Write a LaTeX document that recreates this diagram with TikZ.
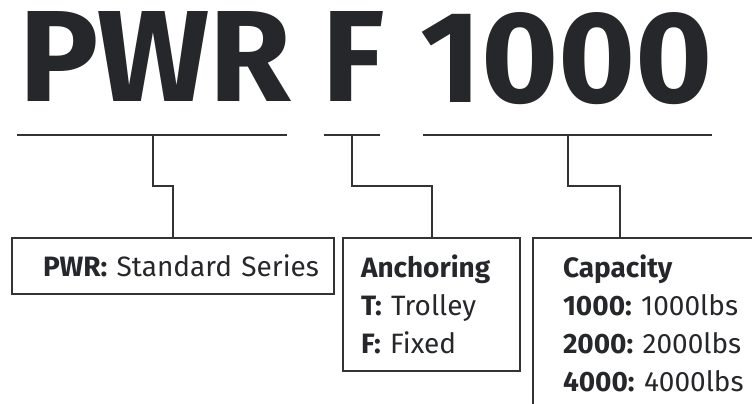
\documentclass[tikz,border=0pt]{standalone}
\usepackage{fontspec}
\setmainfont{Fira Sans}
\usetikzlibrary{positioning}
\definecolor{ink}{HTML}{26272B}
\definecolor{rulegray}{HTML}{333335}
\newcommand{\codepart}[2]{\resizebox{#1}{90pt}{\bfseries #2}}
\tikzset{
  codeword/.style={text=ink, inner sep=0pt, anchor=base west},
  keybox/.style={draw=rulegray, line width=2pt, inner ysep=17pt, align=left,
                 font=\fontsize{28}{38}\selectfont\frenchspacing, text=ink, anchor=north west},
  underline/.style={draw=rulegray, line width=2pt},
  link/.style={draw=rulegray, line width=2pt},
}

\begin{document}
\begin{tikzpicture}[x=1pt, y=-1pt]
  \useasboundingbox (0,0) rectangle (752,404);
  \clip (0,0) rectangle (752,404);
  % Model code
  \node[codeword] (pwr) at (19,102) {\codepart{272pt}{PWR}};
  \node[codeword] (fix) at (322,102) {\codepart{62pt}{F}};
  \node[codeword] (cap) at (420,102) {\codepart{293pt}{1000}};
  % Underlines under each part
  \coordinate (ua) at (17,135);  \coordinate (ub) at (287,135);
  \coordinate (uc) at (324,135); \coordinate (ud) at (380,135);
  \coordinate (ue) at (423,135); \coordinate (uf) at (712,135);
  \draw[underline] (ua) -- (ub);
  \draw[underline] (uc) -- (ud);
  \draw[underline] (ue) -- (uf);
  \coordinate (pwrtap) at (153,135);
  \coordinate (fixtap) at (352,135);
  \coordinate (captap) at (568,135);
  % Boxes
  \node[keybox, align=right, text width=292pt, inner xsep=15pt,
        minimum height=56pt, inner ysep=0pt] (series) at (11,237)
       {\textbf{PWR:} Standard Series};
  \node[keybox, text width=141pt, inner xsep=18pt] (anchor) at (342,237)
       {\textbf{Anchoring}\\\textbf{T:} Trolley\\\textbf{F:} Fixed};
  \node[keybox, text width=204pt, inner xsep=30pt] (capacity) at (532,237)
       {\textbf{Capacity}\\\textbf{1000:} 1000lbs\\\textbf{2000:} 2000lbs\\\textbf{4000:} 4000lbs};
  % Stepped connectors
  \draw[link] (pwrtap) -- ++(0,51) -| (series.north);
  \draw[link] (fixtap) -- ++(0,51) -| (anchor.north);
  \draw[link] (captap) -- ++(0,51) -| ([xshift=88pt]capacity.north west);
\end{tikzpicture}
\end{document}
